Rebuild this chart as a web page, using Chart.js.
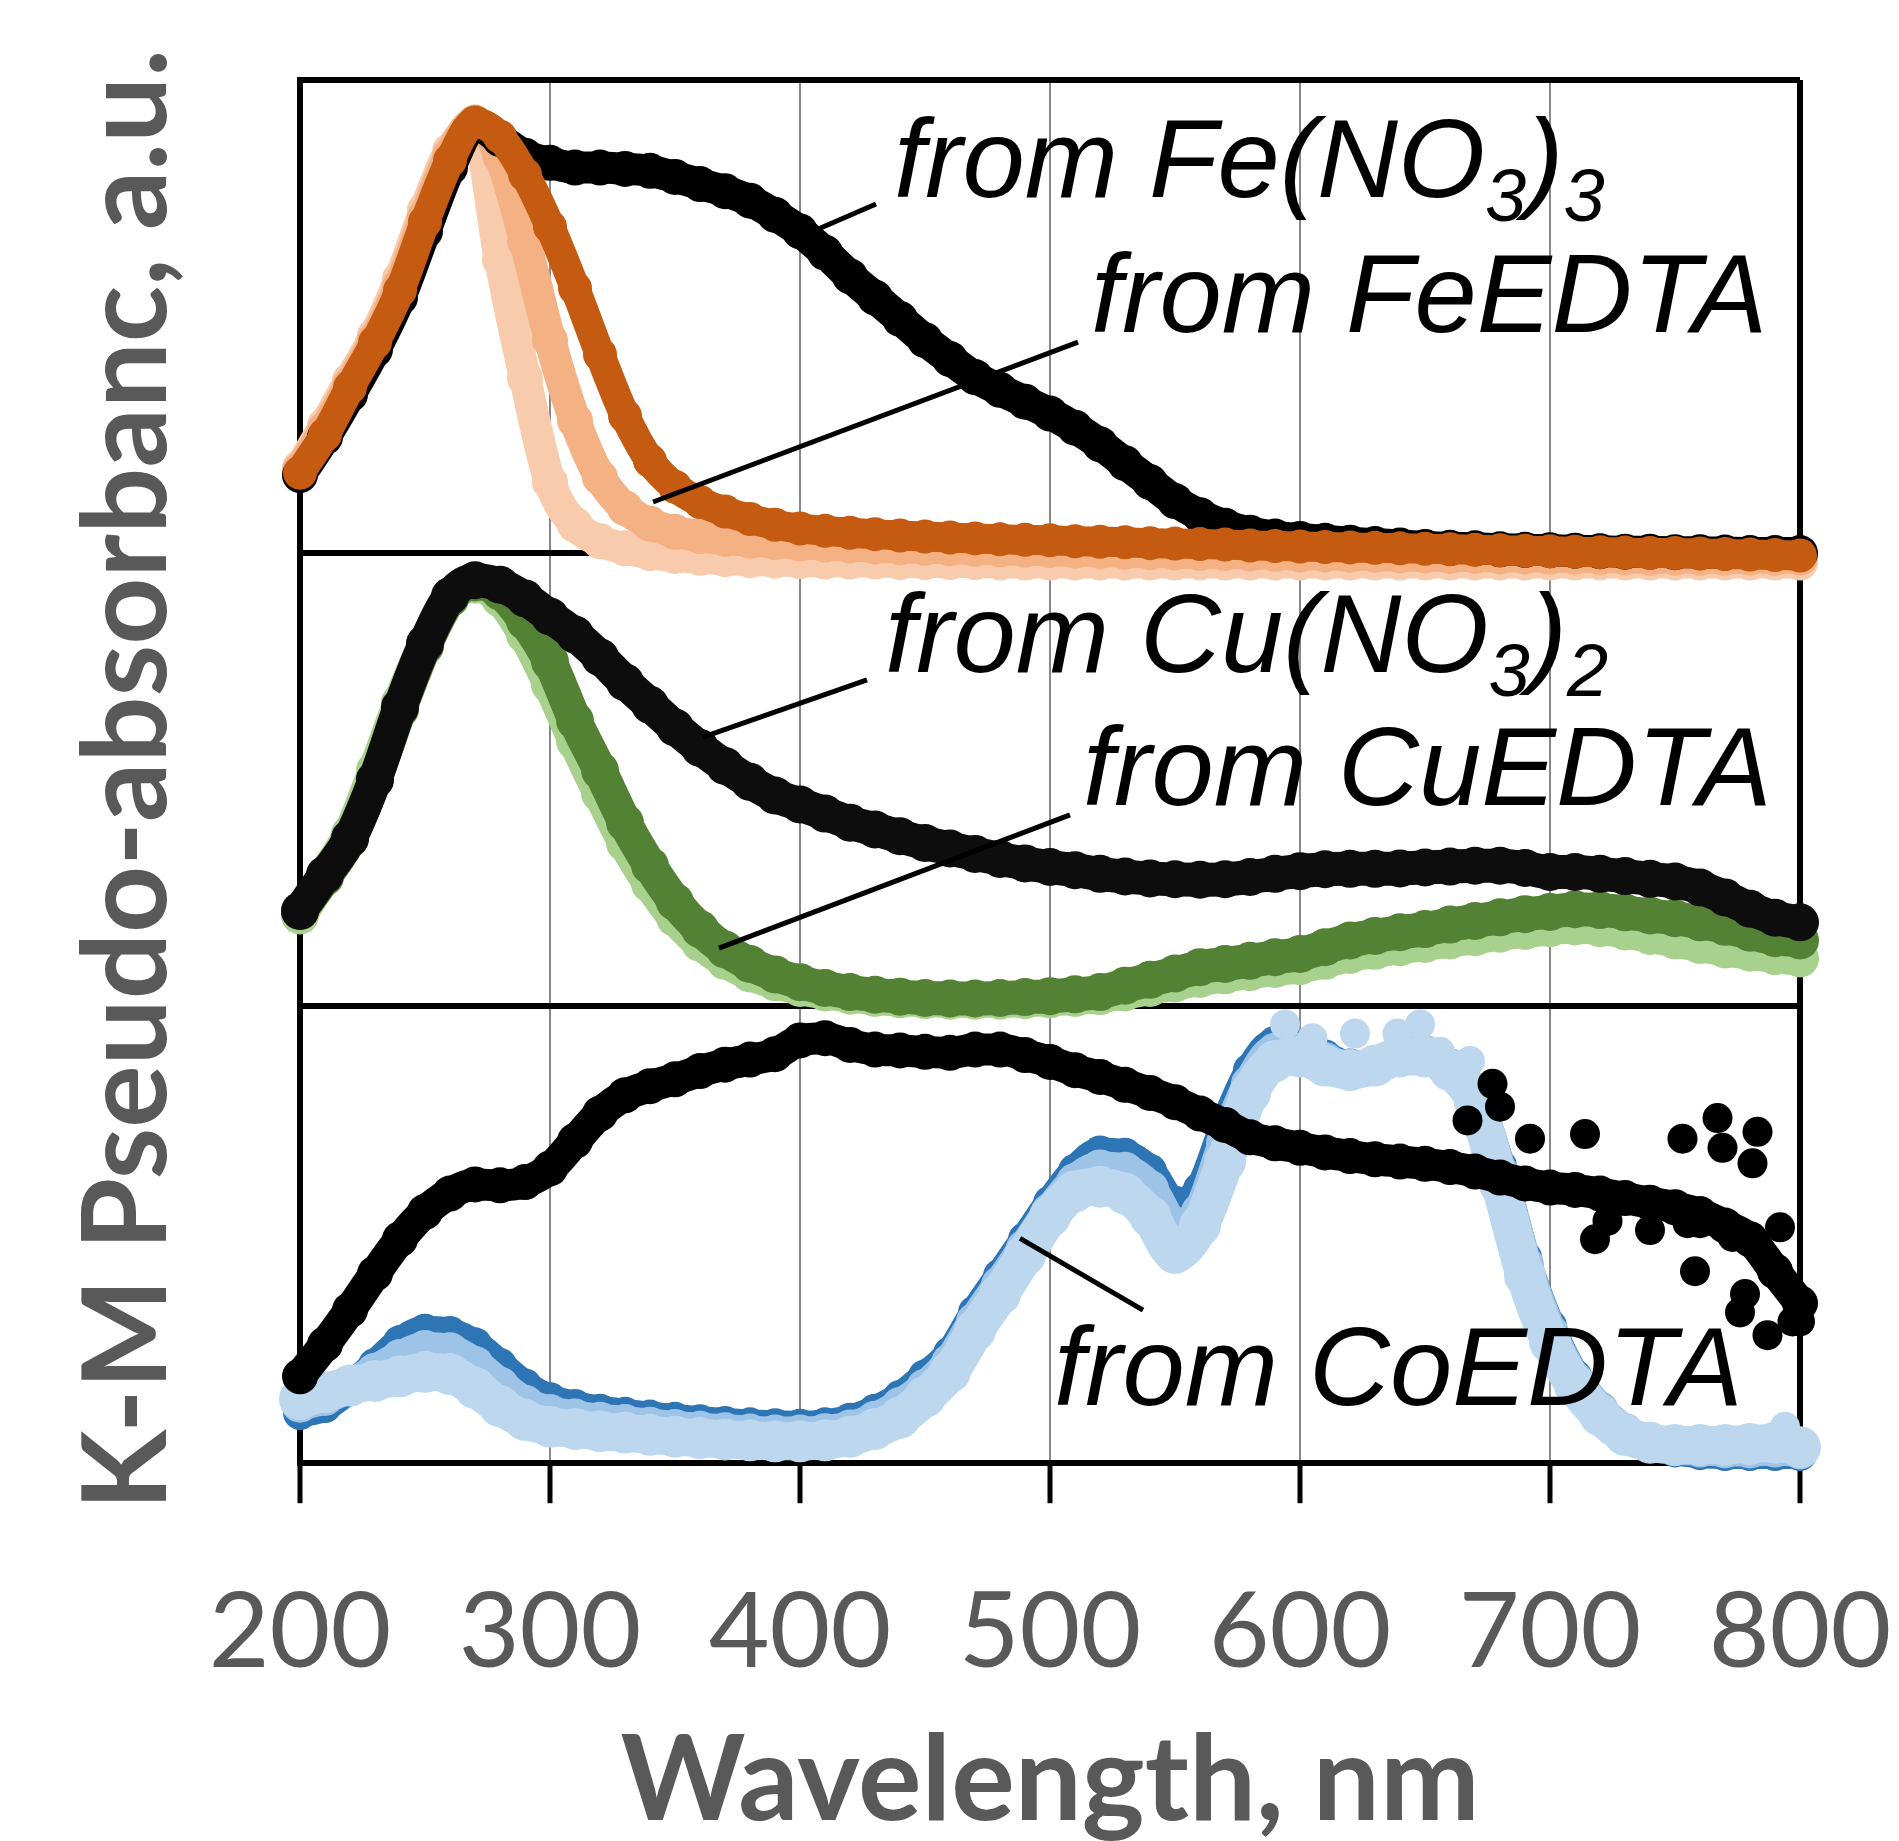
<!DOCTYPE html>
<html>
<head>
<meta charset="utf-8">
<script src="https://cdn.jsdelivr.net/npm/chart.js@4.4.1/dist/chart.umd.min.js"></script>
<style>
  html, body { margin: 0; padding: 0; background: #fff; }
  #wrap { width: 1899px; height: 1841px; }
</style>
</head>
<body>
<div id="wrap"><canvas id="chart" width="1899" height="1841"></canvas></div>
<script>
// wavelength grid (nm) shared by all spectra
const wavelength = [
  200, 210, 220, 230, 240, 250, 260, 270, 280, 290,
  300, 310, 320, 330, 340, 350, 360, 370, 380, 390,
  400, 410, 420, 430, 440, 450, 460, 470, 480, 490,
  500, 510, 520, 530, 540, 550, 560, 570, 580, 590,
  600, 610, 620, 630, 640, 650, 660, 670, 680, 690,
  700, 710, 720, 730, 740, 750, 760, 770, 780, 790,
  800
];
const xTicks = [200, 300, 400, 500, 600, 700, 800];

// top panel - iron
const feNitrate = [
  0.165, 0.245, 0.335, 0.43, 0.54, 0.68, 0.815, 0.905, 0.875, 0.84,
  0.825, 0.815, 0.815, 0.812, 0.808, 0.795, 0.78, 0.765, 0.745, 0.715,
  0.68, 0.635, 0.585, 0.54, 0.495, 0.45, 0.41, 0.372, 0.345, 0.32,
  0.295, 0.265, 0.23, 0.19, 0.15, 0.11, 0.08, 0.058, 0.043, 0.035,
  0.03, 0.026, 0.022, 0.019, 0.016, 0.013, 0.011, 0.01, 0.008, 0.007,
  0.006, 0.005, 0.004, 0.003, 0.003, 0.002, 0.002, 0.001, 0, 0,
  0
];
const feEdtaDark = [
  0.17, 0.25, 0.35, 0.445, 0.555, 0.70, 0.83, 0.91, 0.88, 0.80,
  0.69, 0.56, 0.42, 0.29, 0.195, 0.14, 0.108, 0.088, 0.072, 0.06,
  0.052, 0.047, 0.043, 0.04, 0.037, 0.035, 0.033, 0.031, 0.029, 0.028,
  0.027, 0.025, 0.024, 0.023, 0.021, 0.02, 0.019, 0.018, 0.016, 0.015,
  0.014, 0.013, 0.012, 0.011, 0.01, 0.009, 0.008, 0.007, 0.006, 0.005,
  0.004, 0.003, 0.002, 0.001, 0, 0, -0.001, -0.002, -0.003, -0.004,
  -0.005
];
const feEdtaMid = [
  0.175, 0.26, 0.355, 0.45, 0.565, 0.71, 0.84, 0.91, 0.84, 0.66,
  0.45, 0.28, 0.16, 0.095, 0.062, 0.045, 0.036, 0.03, 0.026, 0.023,
  0.02, 0.018, 0.016, 0.014, 0.012, 0.011, 0.01, 0.009, 0.008, 0.007,
  0.006, 0.005, 0.004, 0.003, 0.002, 0.001, 0, 0, -0.001, -0.002,
  -0.003, -0.003, -0.004, -0.004, -0.005, -0.005, -0.006, -0.006, -0.007, -0.007,
  -0.008, -0.008, -0.009, -0.009, -0.01, -0.01, -0.01, -0.01, -0.01, -0.01,
  -0.01
];
const feEdtaLight = [
  0.18, 0.27, 0.365, 0.46, 0.58, 0.725, 0.85, 0.90, 0.62, 0.37,
  0.15, 0.06, 0.025, 0.01, 0, -0.006, -0.01, -0.013, -0.015, -0.016,
  -0.017, -0.018, -0.018, -0.018, -0.019, -0.019, -0.019, -0.019, -0.02, -0.02,
  -0.02, -0.02, -0.02, -0.02, -0.02, -0.02, -0.02, -0.02, -0.02, -0.02,
  -0.02, -0.02, -0.02, -0.02, -0.02, -0.02, -0.02, -0.02, -0.02, -0.02,
  -0.02, -0.02, -0.02, -0.02, -0.02, -0.02, -0.02, -0.02, -0.02, -0.02,
  -0.02
];

// middle panel - copper
const cuNitrate = [
  0.21, 0.29, 0.37, 0.50, 0.66, 0.80, 0.905, 0.94, 0.93, 0.90,
  0.86, 0.82, 0.77, 0.715, 0.665, 0.615, 0.57, 0.53, 0.495, 0.465,
  0.445, 0.425, 0.405, 0.39, 0.375, 0.36, 0.348, 0.336, 0.325, 0.315,
  0.307, 0.30, 0.292, 0.286, 0.282, 0.28, 0.279, 0.28, 0.285, 0.292,
  0.298, 0.302, 0.303, 0.303, 0.304, 0.306, 0.308, 0.31, 0.31, 0.305,
  0.296, 0.296, 0.292, 0.287, 0.281, 0.275, 0.262, 0.24, 0.215, 0.195,
  0.185
];
const cuEdtaDark = [
  0.21, 0.285, 0.37, 0.50, 0.655, 0.795, 0.90, 0.935, 0.915, 0.85,
  0.76, 0.63, 0.52, 0.405, 0.31, 0.23, 0.17, 0.125, 0.093, 0.07,
  0.053, 0.04, 0.031, 0.025, 0.021, 0.018, 0.017, 0.017, 0.018, 0.02,
  0.022, 0.026, 0.031, 0.045, 0.058, 0.072, 0.086, 0.093, 0.10, 0.108,
  0.115, 0.13, 0.145, 0.155, 0.163, 0.17, 0.18, 0.188, 0.196, 0.203,
  0.208, 0.214, 0.212, 0.207, 0.20, 0.194, 0.185, 0.175, 0.162, 0.15,
  0.145
];
const cuEdtaLight = [
  0.20, 0.29, 0.38, 0.52, 0.67, 0.80, 0.90, 0.93, 0.90, 0.82,
  0.71, 0.585, 0.47, 0.36, 0.27, 0.195, 0.14, 0.10, 0.072, 0.053,
  0.04, 0.03, 0.023, 0.018, 0.015, 0.013, 0.012, 0.012, 0.012, 0.013,
  0.015, 0.018, 0.022, 0.03, 0.04, 0.05, 0.06, 0.068, 0.075, 0.082,
  0.088, 0.10, 0.113, 0.122, 0.13, 0.137, 0.145, 0.152, 0.16, 0.166,
  0.172, 0.176, 0.172, 0.165, 0.155, 0.145, 0.135, 0.125, 0.118, 0.11,
  0.105
];

// bottom panel - cobalt
const coNitrate = [
  0.19, 0.26, 0.335, 0.415, 0.49, 0.55, 0.59, 0.61, 0.608, 0.615,
  0.645, 0.705, 0.765, 0.805, 0.825, 0.84, 0.858, 0.872, 0.883, 0.895,
  0.925, 0.93, 0.915, 0.905, 0.903, 0.90, 0.898, 0.905, 0.905, 0.893,
  0.878, 0.86, 0.845, 0.828, 0.81, 0.79, 0.765, 0.74, 0.713, 0.70,
  0.69, 0.68, 0.672, 0.665, 0.66, 0.655, 0.648, 0.638, 0.625, 0.612,
  0.603, 0.598, 0.59, 0.58, 0.57, 0.56, 0.545, 0.52, 0.49, 0.42,
  0.35
];
const coNitrateDotX = [667, 677, 680, 692, 714, 718, 723, 740, 753, 755, 758, 760, 767, 769, 773, 776, 778, 781, 783, 787, 792, 794, 797, 800];
const coNitrateDotY = [0.75, 0.83, 0.78, 0.71, 0.72, 0.49, 0.53, 0.51, 0.71, 0.525, 0.42, 0.525, 0.755, 0.69, 0.495, 0.33, 0.37, 0.656, 0.725, 0.28, 0.516, 0.39, 0.31, 0.31];
const coEdtaDark = [
  0.11, 0.125, 0.165, 0.215, 0.265, 0.29, 0.285, 0.26, 0.215, 0.17,
  0.14, 0.125, 0.115, 0.108, 0.102, 0.097, 0.092, 0.088, 0.085, 0.083,
  0.082, 0.085, 0.095, 0.115, 0.145, 0.19, 0.24, 0.33, 0.41, 0.49,
  0.57, 0.64, 0.68, 0.675, 0.64, 0.57, 0.6, 0.74, 0.86, 0.92,
  0.91, 0.89, 0.87, 0.87, 0.90, 0.90, 0.87, 0.81, 0.65, 0.45,
  0.30, 0.19, 0.12, 0.07, 0.04, 0.028, 0.022, 0.02, 0.02, 0.02,
  0.02
];
const coEdtaMid = [
  0.13, 0.145, 0.17, 0.20, 0.23, 0.25, 0.245, 0.215, 0.17, 0.13,
  0.11, 0.10, 0.093, 0.088, 0.082, 0.077, 0.073, 0.07, 0.067, 0.065,
  0.065, 0.068, 0.076, 0.095, 0.125, 0.165, 0.22, 0.31, 0.39, 0.47,
  0.55, 0.615, 0.645, 0.64, 0.60, 0.52, 0.55, 0.70, 0.83, 0.90,
  0.90, 0.88, 0.865, 0.87, 0.895, 0.895, 0.865, 0.80, 0.635, 0.435,
  0.285, 0.18, 0.115, 0.068, 0.043, 0.035, 0.032, 0.03, 0.03, 0.032,
  0.028
];
const coEdtaLight = [
  0.14, 0.155, 0.17, 0.18, 0.19, 0.20, 0.195, 0.165, 0.125, 0.095,
  0.08, 0.075, 0.07, 0.067, 0.062, 0.058, 0.055, 0.052, 0.05, 0.048,
  0.048, 0.05, 0.058, 0.075, 0.10, 0.145, 0.20, 0.29, 0.37, 0.455,
  0.54, 0.595, 0.605, 0.59, 0.54, 0.46, 0.52, 0.66, 0.81, 0.88,
  0.89, 0.87, 0.86, 0.87, 0.89, 0.89, 0.86, 0.79, 0.61, 0.41,
  0.265, 0.17, 0.105, 0.062, 0.045, 0.04, 0.04, 0.04, 0.042, 0.045,
  0.035
];
const coEdtaLightDotX = [594, 605, 622, 639, 648, 656, 668, 794];
const coEdtaLightDotY = [0.96, 0.93, 0.94, 0.94, 0.96, 0.90, 0.88, 0.08];

// labels and their leader lines, in data units of each panel
const notes = [
  { axis: 'yFe', x: 437.6, y: 0.753, parts: [['from Fe(NO', false], ['3', true], [')', false], ['3', true]] },
  { axis: 'yFe', x: 516.4, y: 0.467, parts: [['from FeEDTA', false]] },
  { axis: 'yCu', x: 434, y: 0.737, parts: [['from Cu(NO', false], ['3', true], [')', false], ['2', true]] },
  { axis: 'yCu', x: 513.2, y: 0.444, parts: [['from CuEDTA', false]] },
  { axis: 'yCo', x: 501.6, y: 0.127, parts: [['from CoEDTA', false]] }
];
const leaders = [
  { axis: 'yFe', x0: 430.4, y0: 0.738, x1: 406.4, y1: 0.683 },
  { axis: 'yFe', x0: 511.2, y0: 0.446, x1: 341.2, y1: 0.108 },
  { axis: 'yCu', x0: 426.8, y0: 0.72, x1: 361.2, y1: 0.594 },
  { axis: 'yCu', x0: 508, y0: 0.422, x1: 367.6, y1: 0.128 },
  { axis: 'yCo', x0: 488, y0: 0.492, x1: 537.2, y1: 0.335 }
];

function band(ys, color, width, axis, order) {
  return {
    data: wavelength.map((w, i) => ({ x: w, y: ys[i] })),
    yAxisID: axis,
    showLine: true,
    borderColor: color,
    borderWidth: width,
    borderJoinStyle: 'round',
    borderCapStyle: 'round',
    cubicInterpolationMode: 'monotone',
    pointRadius: width / 2 + 2,
    pointBorderWidth: 0,
    pointBackgroundColor: color,
    pointHoverRadius: 0,
    clip: false,
    order
  };
}

function dots(xs, ys, color, radius, axis, order) {
  return {
    data: xs.map((w, i) => ({ x: w, y: ys[i] })),
    yAxisID: axis,
    showLine: false,
    pointRadius: radius,
    pointBorderWidth: 0,
    pointBackgroundColor: color,
    pointHoverRadius: 0,
    clip: false,
    order
  };
}

function panelAxis(weight, titleText) {
  return {
    type: 'linear',
    position: 'left',
    stack: 'panels',
    stackWeight: weight,
    min: 0,
    max: 1,
    ticks: { display: false, stepSize: 1 },
    grid: { color: '#000', lineWidth: 6, drawTicks: false },
    border: { color: '#000', width: 6 },
    title: {
      display: true,
      text: titleText,
      color: '#595959',
      font: { family: 'Lato', size: 117, weight: 'bold', lineHeight: 1.2 },
      padding: { top: 38, bottom: 101.6 }
    }
  };
}

const notePlugin = {
  id: 'notes',
  afterDatasetsDraw(chart) {
    const ctx = chart.ctx;
    const xs = chart.scales.x;
    ctx.save();
    ctx.strokeStyle = '#000';
    ctx.lineWidth = 5;
    leaders.forEach(l => {
      const ys = chart.scales[l.axis];
      ctx.beginPath();
      ctx.moveTo(xs.getPixelForValue(l.x0), ys.getPixelForValue(l.y0));
      ctx.lineTo(xs.getPixelForValue(l.x1), ys.getPixelForValue(l.y1));
      ctx.stroke();
    });
    ctx.fillStyle = '#000';
    ctx.textBaseline = 'alphabetic';
    ctx.textAlign = 'left';
    notes.forEach(n => {
      let x = xs.getPixelForValue(n.x);
      const y = chart.scales[n.axis].getPixelForValue(n.y);
      n.parts.forEach(([txt, sub]) => {
        ctx.font = sub ? 'italic 74px "Liberation Sans"' : 'italic 112px "Liberation Sans"';
        ctx.fillText(txt, x, sub ? y + 24 : y);
        x += ctx.measureText(txt).width;
      });
    });
    ctx.restore();
  }
};

const edge = v => v === xTicks[0] || v === xTicks[xTicks.length - 1];

new Chart(document.getElementById('chart'), {
  type: 'scatter',
  data: {
    datasets: [
      band(feEdtaDark, '#C55A11', 30, 'yFe', 1),
      band(feNitrate, '#000000', 32, 'yFe', 2),
      band(feEdtaMid, '#F4B183', 32, 'yFe', 3),
      band(feEdtaLight, '#F8CBAD', 32, 'yFe', 4),

      band(cuNitrate, '#0D0D0D', 34, 'yCu', 1),
      band(cuEdtaDark, '#548235', 34, 'yCu', 2),
      band(cuEdtaLight, '#A9D18E', 34, 'yCu', 3),

      band(coNitrate, '#000000', 32, 'yCo', 1),
      dots(coNitrateDotX, coNitrateDotY, '#000000', 15, 'yCo', 1),
      band(coEdtaLight, '#BDD7EE', 38, 'yCo', 2),
      dots(coEdtaLightDotX, coEdtaLightDotY, '#BDD7EE', 15, 'yCo', 2),
      band(coEdtaMid, '#9DC3E6', 34, 'yCo', 3),
      band(coEdtaDark, '#2E75B6', 30, 'yCo', 4)
    ]
  },
  options: {
    responsive: false,
    animation: false,
    devicePixelRatio: 1,
    layout: { padding: { left: 20, right: 99, top: 80, bottom: 0 } },
    plugins: { legend: { display: false }, tooltip: { enabled: false } },
    scales: {
      x: {
        type: 'linear',
        min: xTicks[0],
        max: xTicks[xTicks.length - 1],
        afterBuildTicks: s => { s.ticks = xTicks.map(v => ({ value: v })); },
        ticks: {
          color: '#595959',
          padding: 0,
          maxRotation: 0,
          autoSkip: false,
          font: { family: 'Lato', size: 105, lineHeight: 2.476 }
        },
        grid: {
          color: c => edge(c.tick.value) ? '#000' : '#888888',
          lineWidth: c => edge(c.tick.value) ? 6 : 2,
          tickColor: '#000',
          tickWidth: 5,
          tickLength: 40
        },
        border: { color: '#000', width: 6 },
        title: {
          display: true,
          text: 'Wavelength, nm',
          color: '#595959',
          font: { family: 'Lato', size: 119, weight: 'bold', lineHeight: 0.99 },
          padding: { top: -40, bottom: 0 }
        }
      },
      yCo: panelAxis(457, ''),
      yCu: panelAxis(453, 'K-M Pseudo-absorbanc, a.u.'),
      yFe: panelAxis(473, '')
    }
  },
  plugins: [notePlugin]
});
</script>
</body>
</html>
